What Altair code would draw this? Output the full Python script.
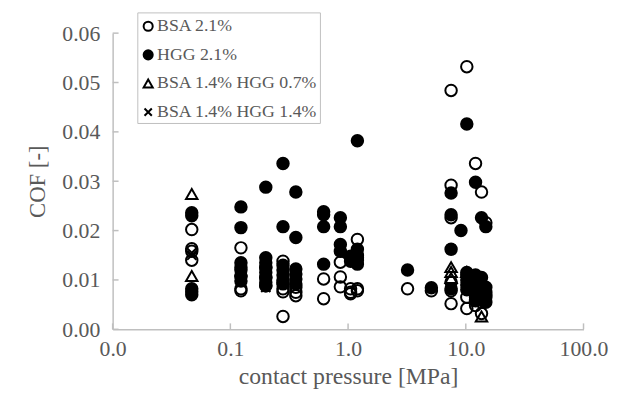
import altair as alt
import pandas as pd

series_names = ["BSA 2.1%", "HGG 2.1%", "BSA 1.4% HGG 0.7%", "BSA 1.4% HGG 1.4%"]

# BSA 2.1% (open circles)
bsa21_x = [0.047, 0.047, 0.047, 0.047,
           0.123, 0.123, 0.123, 0.123, 0.123,
           0.2, 0.2, 0.2,
           0.28, 0.28, 0.28, 0.28, 0.28,
           0.36, 0.36, 0.36,
           0.62, 0.62,
           0.86, 0.86, 0.86,
           1.05, 1.05, 1.05,
           1.2, 1.2, 1.2, 1.2,
           3.2, 5.1,
           7.5, 7.5, 7.5, 7.5, 7.5, 7.5,
           10.2, 10.2, 10.2, 10.2,
           12.1, 12.1, 12.1,
           13.6, 13.6, 13.6,
           14.8, 14.8]
bsa21_y = [0.0202, 0.0163, 0.0158, 0.0140,
           0.0165, 0.0125, 0.0108, 0.0082, 0.0078,
           0.0125, 0.0105, 0.0088,
           0.0138, 0.0095, 0.0082, 0.0076, 0.0026,
           0.0085, 0.0075, 0.0068,
           0.0102, 0.0062,
           0.0136, 0.0106, 0.0086,
           0.0082, 0.0075, 0.0072,
           0.0182, 0.0145, 0.0082, 0.0078,
           0.0082, 0.0078,
           0.0484, 0.0292, 0.0226, 0.0096, 0.0078, 0.0052,
           0.0532, 0.0110, 0.0065, 0.0042,
           0.0336, 0.0060, 0.0048,
           0.0278, 0.0055, 0.0032,
           0.0216, 0.0070]

# HGG 2.1% (filled circles)
hgg21_x = [0.047, 0.047, 0.047, 0.047, 0.047,
           0.123, 0.123, 0.123, 0.123, 0.123, 0.123,
           0.2, 0.2, 0.2, 0.2, 0.2, 0.2, 0.2, 0.2,
           0.28, 0.28, 0.28, 0.28, 0.28, 0.28, 0.28,
           0.36, 0.36, 0.36, 0.36, 0.36, 0.36,
           0.62, 0.62, 0.62, 0.62,
           0.86, 0.86, 0.86, 0.86,
           1.05, 1.05,
           1.2, 1.2, 1.2, 1.2, 1.2,
           3.2, 5.1,
           7.5, 7.5, 7.5, 7.5,
           9.1,
           10.2, 10.2, 10.2, 10.2, 10.2,
           12.1, 12.1, 12.1, 12.1, 12.1, 12.1, 12.1,
           13.6, 13.6, 13.6, 13.6, 13.6, 13.6,
           14.8, 14.8, 14.8, 14.8, 14.8]
hgg21_y = [0.0236, 0.0230, 0.0082, 0.0076, 0.0070,
           0.0248, 0.0206, 0.0135, 0.0120, 0.0108, 0.0098,
           0.0288, 0.0145, 0.0135, 0.0125, 0.0115, 0.0105, 0.0095, 0.0088,
           0.0336, 0.0208, 0.0130, 0.0120, 0.0110, 0.0100, 0.0092,
           0.0278, 0.0186, 0.0122, 0.0112, 0.0102, 0.0092,
           0.0238, 0.0232, 0.0208, 0.0132,
           0.0226, 0.0208, 0.0172, 0.0158,
           0.0148, 0.0138,
           0.0382, 0.0162, 0.0150, 0.0140, 0.0132,
           0.0120, 0.0084,
           0.0276, 0.0232, 0.0162, 0.0082,
           0.0200,
           0.0416, 0.0115, 0.0100, 0.0090, 0.0080,
           0.0298, 0.0110, 0.0095, 0.0085, 0.0075, 0.0065, 0.0058,
           0.0226, 0.0105, 0.0090, 0.0080, 0.0070, 0.0060,
           0.0208, 0.0085, 0.0075, 0.0065, 0.0055]

# BSA 1.4% HGG 0.7% (open triangles)
mix07_x = [0.047, 0.047, 7.5, 7.5, 7.5, 10.2, 13.6]
mix07_y = [0.0274, 0.0108, 0.0126, 0.0116, 0.0104, 0.0116, 0.0026]

# BSA 1.4% HGG 1.4% (crosses)
mix14_x = [0.047, 0.047, 0.123, 0.123, 0.2, 0.2, 0.28, 0.28, 0.36, 7.5, 12.1, 12.1, 14.8]
mix14_y = [0.0155, 0.0150, 0.0132, 0.0115, 0.0090, 0.0085, 0.0105, 0.0095, 0.0098, 0.0162, 0.0090, 0.0070, 0.0060]

x_ticks = [0.01, 0.1, 1, 10, 100]
y_ticks = [0.0, 0.01, 0.02, 0.03, 0.04, 0.05, 0.06]

rows = []
k = 0
for name, xs, ys in zip(series_names,
                        [bsa21_x, hgg21_x, mix07_x, mix14_x],
                        [bsa21_y, hgg21_y, mix07_y, mix14_y]):
    for a, b in zip(xs, ys):
        rows.append({"series": name, "pressure": a, "cof": b, "k": k})
        k += 1
df = pd.DataFrame(rows)

FONT = "Liberation Serif"
GRAY = "#595959"
AXIS = "#bfbfbf"
cross = "M-0.8,-0.8L0.8,0.8M-0.8,0.8L0.8,-0.8"

xscale = alt.Scale(type="log", domain=[0.01, 100], nice=False)
yscale = alt.Scale(domain=[0, 0.06], nice=False)
xaxis = alt.Axis(values=x_ticks, format=".1f", title="contact pressure [MPa]",
                 labelPadding=10, titlePadding=5, labelFlush=False, labelOverlap=False,
                 titleFontSize=24)
yaxis = alt.Axis(values=y_ticks, format=".2f", title="COF [-]",
                 labelPadding=13, titlePadding=13, labelFlush=False, labelOverlap=False,
                 titleFontSize=23)

leg = alt.Legend(
    title=" ", titleFontSize=3, titlePadding=0,
    orient="none", legendX=25, legendY=-21,
    strokeColor=AXIS, fillColor="white", padding=2,
    labelFont=FONT, labelFontSize=18, labelColor=GRAY, labelLimit=400,
    symbolSize=85, symbolStrokeWidth=2, rowPadding=11, labelOffset=0,
)

points = alt.Chart(df).mark_point(opacity=1, strokeWidth=2, size=135).encode(
    x=alt.X("pressure:Q", scale=xscale, axis=xaxis),
    y=alt.Y("cof:Q", scale=yscale, axis=yaxis),
    shape=alt.Shape("series:N", scale=alt.Scale(domain=series_names,
                    range=["circle", "circle", "triangle-up", cross]), legend=leg),
    fill=alt.Fill("series:N", scale=alt.Scale(domain=series_names,
                  range=["transparent", "black", "transparent", "transparent"]), legend=leg),
    stroke=alt.Stroke("series:N", scale=alt.Scale(domain=series_names,
                      range=["black", "black", "black", "black"]), legend=leg),
    order=alt.Order("k:Q"),
)

ytick_layer = alt.Chart(pd.DataFrame({"cof": y_ticks})).mark_rule(
    color=AXIS, strokeWidth=1.5).encode(
    y=alt.Y("cof:Q", scale=yscale, axis=yaxis), x=alt.value(0), x2=alt.value(6))
xtick_layer = alt.Chart(pd.DataFrame({"pressure": x_ticks})).mark_rule(
    color=AXIS, strokeWidth=1.5).encode(
    x=alt.X("pressure:Q", scale=xscale, axis=xaxis), y=alt.value(300), y2=alt.value(294))

chart = alt.layer(points, ytick_layer, xtick_layer).properties(
    width=477, height=300,
    padding={"left": 106, "top": 23, "right": 40, "bottom": 58},
    autosize=alt.AutoSizeParams(type="none"),
).configure_view(stroke=None).configure_axis(
    grid=False, ticks=False, domainColor=AXIS, domainWidth=1.5,
    labelFont=FONT, labelFontSize=22, labelColor=GRAY,
    titleFont=FONT, titleColor=GRAY, titleFontWeight="normal",
)

chart.save("out.html", embed_options={"renderer": "svg", "actions": False})
